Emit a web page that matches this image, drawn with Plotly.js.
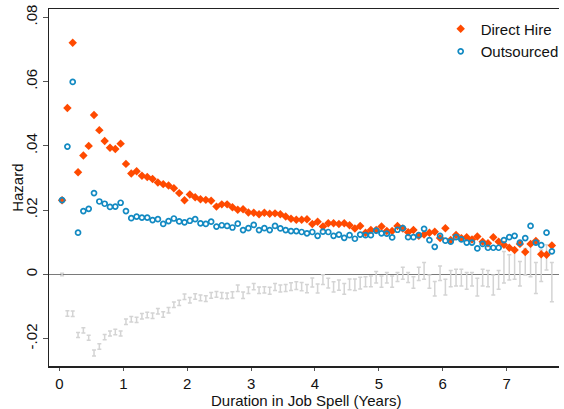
<!DOCTYPE html>
<html>
<head>
<meta charset="utf-8">
<script src="https://cdn.plot.ly/plotly-3.0.1.min.js"></script>
<style>html,body{margin:0;padding:0;background:#fff;}#chart{width:564px;height:409px;}</style>
</head>
<body>
<div id="chart"></div>
<script>
// Hazard by month of job spell (month m plotted at (m-0.5)/12 years)
const directHire = [
0.0231,0.0518,0.0721,0.0318,0.0370,0.0400,0.0496,0.0449,0.0415,0.0394,
0.0390,0.0407,0.0344,0.0314,0.0321,0.0307,0.0303,0.0297,0.0286,0.0281,
0.0277,0.0268,0.0253,0.0231,0.0249,0.0240,0.0234,0.0232,0.0229,0.0211,
0.0218,0.0218,0.0209,0.0201,0.0203,0.0193,0.0192,0.0187,0.0192,0.0189,
0.0190,0.0187,0.0180,0.0173,0.0170,0.0170,0.0172,0.0157,0.0164,0.0149,
0.0159,0.0159,0.0157,0.0159,0.0153,0.0143,0.0151,0.0130,0.0138,0.0138,
0.0149,0.0135,0.0135,0.0151,0.0143,0.0131,0.0138,0.0120,0.0124,0.0130,
0.0133,0.0113,0.0144,0.0107,0.0123,0.0113,0.0116,0.0109,0.0118,0.0102,
0.0097,0.0116,0.0102,0.0092,0.0083,0.0076,0.0095,0.0070,0.0095,0.0104,
0.0063,0.0061,0.0090
];
const outsourced = [
0.0231,0.0398,0.0599,0.0130,0.0197,0.0204,0.0253,0.0227,0.0220,0.0210,
0.0211,0.0223,0.0197,0.0175,0.0180,0.0177,0.0177,0.0169,0.0172,0.0157,
0.0166,0.0174,0.0165,0.0162,0.0167,0.0172,0.0159,0.0157,0.0164,0.0149,
0.0153,0.0151,0.0146,0.0158,0.0138,0.0144,0.0154,0.0138,0.0144,0.0138,
0.0151,0.0143,0.0138,0.0135,0.0135,0.0132,0.0128,0.0132,0.0120,0.0133,
0.0132,0.0120,0.0124,0.0114,0.0122,0.0111,0.0124,0.0122,0.0122,0.0136,
0.0128,0.0127,0.0115,0.0139,0.0144,0.0116,0.0116,0.0122,0.0142,0.0107,
0.0086,0.0120,0.0105,0.0102,0.0116,0.0109,0.0099,0.0099,0.0081,0.0095,
0.0083,0.0083,0.0083,0.0107,0.0116,0.0120,0.0099,0.0113,0.0151,0.0099,
0.0091,0.0130,0.0072
];
// Confidence interval of the difference (Outsourced - Direct Hire)
const diffHi = [
0.0004,-0.0113,-0.0114,-0.0181,-0.0166,-0.0189,-0.0235,-0.0216,-0.0187,-0.0176,
-0.0171,-0.0176,-0.0139,-0.0131,-0.0133,-0.0122,-0.0118,-0.0120,-0.0106,-0.0116,
-0.0103,-0.0086,-0.0080,-0.0061,-0.0072,-0.0060,-0.0064,-0.0066,-0.0056,-0.0053,
-0.0056,-0.0058,-0.0054,-0.0033,-0.0055,-0.0039,-0.0028,-0.0039,-0.0038,-0.0040,
-0.0028,-0.0033,-0.0031,-0.0026,-0.0023,-0.0025,-0.0031,-0.0011,-0.0030,-0.0001,
-0.0012,-0.0023,-0.0017,-0.0028,-0.0014,-0.0014,-0.0009,-0.0007,-0.0005,0.0009,
-0.0005,0.0006,-0.0005,0.0006,0.0022,0.0006,-0.0007,0.0022,0.0037,-0.0002,
-0.0022,0.0026,-0.0015,0.0012,0.0016,0.0016,0.0006,0.0006,-0.0012,0.0016,
0.0012,-0.0002,0.0012,0.0071,0.0061,0.0081,0.0040,0.0081,0.0097,0.0037,
0.0076,0.0092,0.0037
];
const diffLo = [
-0.0004,-0.0130,-0.0131,-0.0196,-0.0182,-0.0205,-0.0254,-0.0233,-0.0203,-0.0192,
-0.0188,-0.0192,-0.0156,-0.0148,-0.0150,-0.0139,-0.0135,-0.0137,-0.0123,-0.0133,
-0.0120,-0.0103,-0.0097,-0.0078,-0.0089,-0.0077,-0.0082,-0.0084,-0.0074,-0.0071,
-0.0075,-0.0076,-0.0073,-0.0053,-0.0075,-0.0059,-0.0048,-0.0059,-0.0058,-0.0062,
-0.0050,-0.0055,-0.0053,-0.0050,-0.0047,-0.0051,-0.0057,-0.0039,-0.0058,-0.0031,
-0.0042,-0.0055,-0.0049,-0.0062,-0.0048,-0.0050,-0.0045,-0.0038,-0.0038,-0.0027,
-0.0040,-0.0027,-0.0040,-0.0022,-0.0015,-0.0025,-0.0043,-0.0019,-0.0015,-0.0043,
-0.0067,-0.0019,-0.0064,-0.0038,-0.0036,-0.0036,-0.0046,-0.0036,-0.0067,-0.0036,
-0.0038,-0.0064,-0.0046,-0.0027,-0.0017,-0.0015,-0.0036,-0.0002,-0.0007,-0.0059,
-0.0022,0.0014,-0.0085
];
const xTicks = [0,1,2,3,4,5,6,7];
const yTicks = [-0.02,0,0.02,0.04,0.06,0.08];
const yTickText = ['-.02','0','.02','.04','.06','.08'];
const xTitle = 'Duration in Job Spell (Years)';
const yTitle = 'Hazard';

const years = directHire.map((_, i) => (i + 0.5) / 12);
const mid = diffHi.map((h, i) => (h + diffLo[i]) / 2);

const FONT = 'Liberation Sans, Arial, Helvetica, sans-serif';
const FS = 15;

const traces = [
  {
    x: years, y: mid, type: 'scatter', mode: 'markers',
    marker: {size: 1, opacity: 0},
    error_y: {type: 'data', symmetric: false,
      array: diffHi.map((h, i) => h - mid[i]),
      arrayminus: mid.map((m, i) => m - diffLo[i]),
      color: '#d4d4d4', thickness: 1.5, width: 2},
    showlegend: false, hoverinfo: 'skip'
  },
  {
    x: years, y: directHire, type: 'scatter', mode: 'markers', name: 'Direct Hire',
    marker: {symbol: 'diamond', size: 6.5, color: '#ff4a00', line: {width: 0}}
  },
  {
    x: years, y: outsourced, type: 'scatter', mode: 'markers', name: 'Outsourced',
    marker: {symbol: 'circle-open', size: 5, color: '#138ac2', line: {width: 1.7, color: '#138ac2'}}
  }
];

const layout = {
  width: 564, height: 409,
  margin: {l: 49, r: 0, t: 9, b: 43},
  paper_bgcolor: '#fff', plot_bgcolor: '#fff',
  font: {family: FONT, size: FS, color: '#111'},
  xaxis: {
    range: [-0.163, 7.82], tickvals: xTicks, ticks: 'outside', ticklen: 3, tickwidth: 1,
    tickcolor: '#555', showgrid: false, zeroline: false, showline: true, mirror: true,
    linecolor: '#222', linewidth: 1.5, tickfont: {family: FONT, size: FS, color: '#111'}
  },
  yaxis: {
    range: [-0.0285, 0.0826], tickvals: yTicks, ticktext: yTickText, tickangle: -90,
    ticks: 'outside', ticklen: 5, tickwidth: 1, tickcolor: '#555', showgrid: false,
    zeroline: true, zerolinecolor: '#7a7a7a', zerolinewidth: 1,
    showline: true, linecolor: '#222', linewidth: 1.5,
    tickfont: {family: FONT, size: FS, color: '#111'}
  },
  annotations: [
    {text: xTitle, xref: 'paper', yref: 'paper', x: 0.503, y: -0.0966,
     xanchor: 'center', yanchor: 'middle', showarrow: false,
     font: {family: FONT, size: FS, color: '#111'}},
    {text: yTitle, xref: 'paper', yref: 'paper', x: -0.0621, y: 0.5, textangle: -90,
     xanchor: 'center', yanchor: 'middle', showarrow: false,
     font: {family: FONT, size: FS, color: '#111'}}
  ],
  legend: {x: 0.768, y: 0.99, xanchor: 'left', yanchor: 'top', bgcolor: 'rgba(0,0,0,0)',
    font: {family: FONT, size: FS, color: '#111'}, tracegroupgap: 0, itemwidth: 30},
  showlegend: true
};

Plotly.newPlot('chart', traces, layout, {staticPlot: true, displayModeBar: false});
</script>
</body>
</html>
